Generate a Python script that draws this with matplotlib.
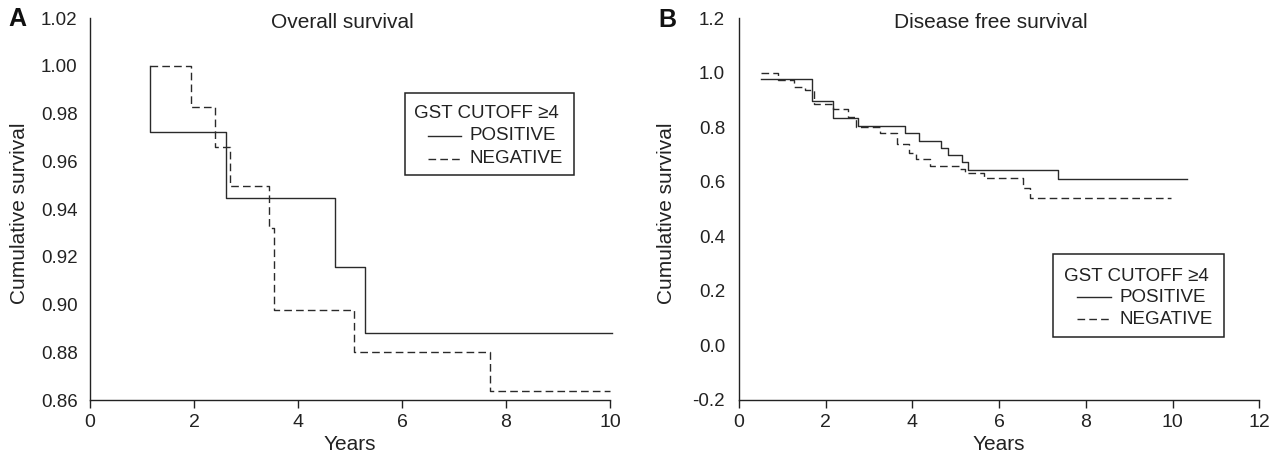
import matplotlib
matplotlib.use("Agg")
import matplotlib.pyplot as plt
from matplotlib.lines import Line2D
from matplotlib.patches import Rectangle

plt.rcParams['font.family'] = ['Liberation Sans', 'DejaVu Sans']
plt.rcParams['axes.unicode_minus'] = False

# ---------------- data ----------------
# Panel A: overall survival (Kaplan-Meier steps)
os_pos_t = [1.145, 1.145, 2.62, 4.71, 5.29, 10.04]
os_pos_s = [1.000, 0.9722, 0.9444, 0.9159, 0.8881, 0.8881]
os_neg_t = [1.145, 1.95, 2.40, 2.69, 3.45, 3.53, 5.07, 7.69, 10.0]
os_neg_s = [1.000, 0.9828, 0.9659, 0.9497, 0.9319, 0.8975, 0.8800, 0.8636, 0.8636]

# Panel B: disease free survival
dfs_pos_t = [0.5, 1.68, 2.16, 2.75, 3.83, 4.15, 4.65, 4.83, 5.15, 5.29, 7.35, 10.33]
dfs_pos_s = [0.975, 0.894, 0.835, 0.805, 0.780, 0.749, 0.725, 0.699, 0.671, 0.642, 0.611, 0.611]
dfs_neg_t = [0.5, 0.89, 1.26, 1.53, 1.74, 2.16, 2.52, 2.70, 3.25, 3.64, 3.93, 4.08,
             4.40, 5.10, 5.22, 5.64, 6.56, 6.70, 9.97]
dfs_neg_s = [1.0, 0.973, 0.948, 0.936, 0.884, 0.865, 0.838, 0.801, 0.780, 0.737, 0.706, 0.682,
             0.659, 0.645, 0.633, 0.612, 0.578, 0.541, 0.541]

os_yticks = [0.86, 0.88, 0.90, 0.92, 0.94, 0.96, 0.98, 1.00, 1.02]
os_yticklabels = ['0.86', '0.88', '0.90', '0.92', '0.94', '0.96', '0.98', '1.00', '1.02']
os_xticks = [0, 2, 4, 6, 8, 10]
dfs_yticks = [-0.2, 0.0, 0.2, 0.4, 0.6, 0.8, 1.0, 1.2]
dfs_yticklabels = ['-0.2', '0.0', '0.2', '0.4', '0.6', '0.8', '1.0', '1.2']
dfs_xticks = [0, 2, 4, 6, 8, 10, 12]

legend_title = 'GST CUTOFF \u22654'
legend_labels = ['POSITIVE', 'NEGATIVE']

# ---------------- style ----------------
W, H = 1282, 458
INK = '#222222'
LINE = '#2a2a2a'
DASH = (5.5, 3.0)
FS_XT = 14
FS_YT = 13.5
FS_LAB = 15
FS_TITLE = 15
FS_LEG = 13.5

fig = plt.figure(figsize=(W / 100, H / 100), dpi=100)


def px_axes(x0, x1, y0, y1):
    return fig.add_axes([x0 / W, 1 - y1 / H, (x1 - x0) / W, (y1 - y0) / H])


axA = px_axes(90, 610, 18, 400)
axB = px_axes(739, 1259.3, 18, 400)


def style_axes(ax, xticks, yticks, yticklabels, xlim, ylim, ypad):
    ax.set_xlim(*xlim)
    ax.set_ylim(*ylim)
    for s in ['top', 'right']:
        ax.spines[s].set_visible(False)
    for s in ['left', 'bottom']:
        ax.spines[s].set_color(INK)
        ax.spines[s].set_linewidth(1.0)
    ax.set_xticks(xticks)
    ax.set_xticklabels([str(v) for v in xticks])
    ax.set_yticks(yticks)
    ax.set_yticklabels(yticklabels)
    ax.tick_params(axis='x', direction='out', length=6, width=1.0, color=INK,
                   labelsize=FS_XT, labelcolor=INK, pad=4)
    ax.tick_params(axis='y', length=0, labelsize=FS_YT, labelcolor=INK, pad=ypad)
    ax.set_xlabel('Years', fontsize=FS_LAB, color=INK)
    ax.set_ylabel('Cumulative survival', fontsize=FS_LAB, color=INK)


style_axes(axA, os_xticks, os_yticks, os_yticklabels, (0, 10), (0.86, 1.02), 9)
style_axes(axB, dfs_xticks, dfs_yticks, dfs_yticklabels, (0, 12), (-0.2, 1.2), 10)

axA.yaxis.set_label_coords((20 - 90) / 520, (400 - 213) / 382)
axB.yaxis.set_label_coords((666 - 739) / 520.3, (400 - 213) / 382)
for ax in (axA, axB):
    ax.xaxis.label.set_verticalalignment('center')
    ax.xaxis.set_label_coords(0.5, (400 - 444) / 382)
    ax.yaxis.label.set_verticalalignment('center')

# curves
axA.step(os_pos_t, os_pos_s, where='post', color=LINE, lw=1.0, clip_on=False)
axA.step(os_neg_t, os_neg_s, where='post', color=LINE, lw=1.0, ls=(0, DASH), clip_on=False)
axB.step(dfs_pos_t, dfs_pos_s, where='post', color=LINE, lw=1.0, clip_on=False)
axB.step(dfs_neg_t, dfs_neg_s, where='post', color=LINE, lw=1.0, ls=(0, DASH), clip_on=False)

# titles
axA.text(0.485, (400 - 22) / 382, 'Overall survival', transform=axA.transAxes,
         ha='center', va='center', fontsize=FS_TITLE, color=INK)
axB.text(0.484, (400 - 22) / 382, 'Disease free survival', transform=axB.transAxes,
         ha='center', va='center', fontsize=FS_TITLE, color=INK)

# panel letters
fig.text(17 / W, 1 - 19 / H, 'A', fontsize=18, fontweight='bold', ha='center', va='center', color='#111111')
fig.text(667 / W, 1 - 20 / H, 'B', fontsize=18, fontweight='bold', ha='center', va='center', color='#111111')


# legends (drawn in figure pixel coordinates)
def draw_legend(box, title_x, title_y, h_x0, h_x1, lab_x, row_y):
    x0, y0, x1, y1 = box
    fig.add_artist(Rectangle((x0 / W, 1 - y1 / H), (x1 - x0) / W, (y1 - y0) / H,
                             transform=fig.transFigure, fill=False,
                             edgecolor=INK, lw=1.1))
    fig.text(title_x / W, 1 - title_y / H, legend_title, fontsize=FS_LEG, color=INK,
             ha='left', va='center')
    styles = ['-', (0, DASH)]
    for lab, ls, yy in zip(legend_labels, styles, row_y):
        fig.add_artist(Line2D([h_x0 / W, h_x1 / W], [1 - yy / H, 1 - yy / H],
                              transform=fig.transFigure, color=LINE, lw=1.0, ls=ls))
        fig.text(lab_x / W, 1 - yy / H, lab, fontsize=FS_LEG, color=INK, ha='left', va='center')


draw_legend((404.5, 93.4, 573.6, 175.3), 414, 113.5, 427.6, 461.4, 469.2, (135.5, 158.5))
draw_legend((1053.3, 254.3, 1224.0, 336.5), 1063.6, 276.4, 1077.3, 1110.8, 1119.4, (297.0, 319.0))

fig.savefig('out.png', dpi=100)
